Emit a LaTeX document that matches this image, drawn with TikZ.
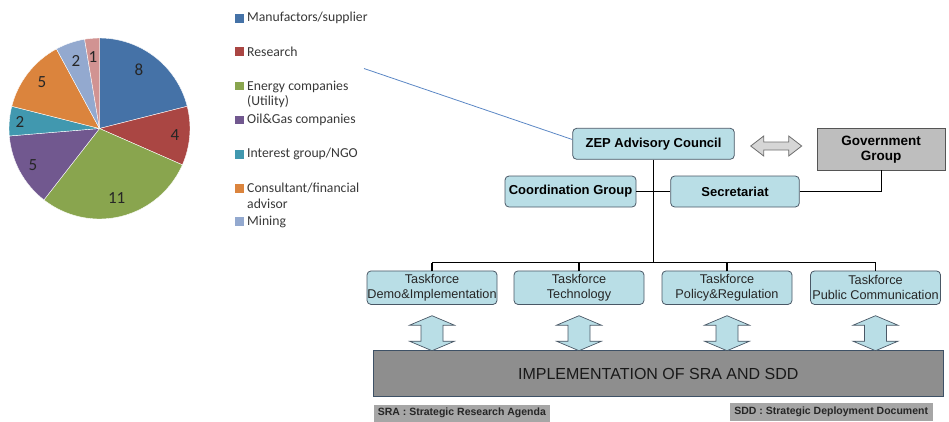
\documentclass[tikz,border=0pt]{standalone}
\usepackage{fontspec}
\setmainfont{Liberation Sans}
\newfontfamily\calfont{Carlito}
\usetikzlibrary{calc}
\definecolor{pblue}{HTML}{4572A7}
\definecolor{pred}{HTML}{AA4643}
\definecolor{pgreen}{HTML}{89A54E}
\definecolor{ppurple}{HTML}{71588F}
\definecolor{pteal}{HTML}{4198AF}
\definecolor{porange}{HTML}{DB843D}
\definecolor{plblue}{HTML}{93A9CF}
\definecolor{ppink}{HTML}{D19392}
\definecolor{boxfill}{HTML}{B9DEE6}
\definecolor{boxline}{HTML}{4A5866}
\definecolor{govfill}{HTML}{BEBEBE}
\definecolor{govline}{HTML}{555555}
\definecolor{implfill}{HTML}{8E8E8E}
\definecolor{implline}{HTML}{3E5166}
\definecolor{lblfill}{HTML}{A6A6A6}
\definecolor{harfill}{HTML}{D6D6D6}
\definecolor{harline}{HTML}{6E6E6E}
\definecolor{linkblue}{HTML}{5B87C5}
\definecolor{legtext}{HTML}{383838}
\begin{document}
\begin{tikzpicture}[x=1pt,y=-1pt,
  box/.style={draw=boxline, fill=boxfill, rounded corners=4pt, line width=0.8pt, inner sep=0pt, align=center},
  boldbox/.style={box, font=\bfseries\fontsize{13}{15}\selectfont},
  tfbox/.style={box, minimum width=130pt, minimum height=33.5pt, font=\fontsize{12.7}{15}\selectfont, text=black!85},
  govbox/.style={draw=govline, fill=govfill, line width=0.8pt, inner sep=0pt, align=center, font=\bfseries\fontsize{13.5}{15}\selectfont},
  implbox/.style={draw=implline, fill=implfill, line width=0.9pt, inner sep=0pt, font=\fontsize{16}{18}\selectfont, text=black!90},
  lblbox/.style={fill=lblfill, inner sep=0pt, anchor=north west, font=\bfseries\fontsize{10.5}{12}\selectfont, text=black!85},
  conn/.style={line width=1.1pt, black},
  blockarrow/.style={draw=boxline, fill=boxfill, line width=0.7pt, line join=miter},
  grayarrow/.style={draw=harline, fill=harfill, line width=0.8pt, line join=miter},
  legsq/.style={minimum size=8.5pt, inner sep=0pt},
  legtxt/.style={anchor=west, inner sep=0pt, align=left, text=legtext, font=\calfont\fontsize{13.7}{15.7}\selectfont},
  pienum/.style={inner sep=0pt, text=black!85, font=\calfont\fontsize{17}{19}\selectfont},
  slice/.style={draw=white, line width=0.4pt}
]
\useasboundingbox (0,0) rectangle (949,421);

% ---------------- pie chart ----------------
\begin{scope}[shift={(99.5,128.5)}, x=1pt, y=1pt]
  \def\R{90.5}
  \filldraw[slice, fill=pblue]   (0,0) -- (90:\R) arc[start angle=90, end angle=14.21, radius=\R] -- cycle;
  \filldraw[slice, fill=pred]    (0,0) -- (14.21:\R) arc[start angle=14.21, end angle=-23.68, radius=\R] -- cycle;
  \filldraw[slice, fill=pgreen]  (0,0) -- (-23.68:\R) arc[start angle=-23.68, end angle=-127.89, radius=\R] -- cycle;
  \filldraw[slice, fill=ppurple] (0,0) -- (-127.89:\R) arc[start angle=-127.89, end angle=-175.26, radius=\R] -- cycle;
  \filldraw[slice, fill=pteal]   (0,0) -- (-175.26:\R) arc[start angle=-175.26, end angle=-194.21, radius=\R] -- cycle;
  \filldraw[slice, fill=porange] (0,0) -- (-194.21:\R) arc[start angle=-194.21, end angle=-241.58, radius=\R] -- cycle;
  \filldraw[slice, fill=plblue]  (0,0) -- (-241.58:\R) arc[start angle=-241.58, end angle=-260.53, radius=\R] -- cycle;
  \filldraw[slice, fill=ppink]   (0,0) -- (-260.53:\R) arc[start angle=-260.53, end angle=-270, radius=\R] -- cycle;
\end{scope}
\node[pienum] (n8)  at (139,70)    {8};
\node[pienum] (n4)  at (175,135)   {4};
\node[pienum] (n11) at (116.7,198) {11};
\node[pienum] (n5a) at (33,165)    {5};
\node[pienum] (n2a) at (20,122)    {2};
\node[pienum] (n5b) at (42,82)     {5};
\node[pienum] (n2b) at (76,61)     {2};
\node[pienum] (n1)  at (93,57)     {1};

% ---------------- legend ----------------
\node[legsq, fill=pblue]   (s1) at (239.5,18.3)  {};
\node[legsq, fill=pred]    (s2) at (239.5,51.7)  {};
\node[legsq, fill=pgreen]  (s3) at (239.5,86)    {};
\node[legsq, fill=ppurple] (s4) at (239.5,120)   {};
\node[legsq, fill=pteal]   (s5) at (239.5,154.3) {};
\node[legsq, fill=porange] (s6) at (239.5,188.3) {};
\node[legsq, fill=plblue]  (s7) at (239.5,221.7) {};
\node[legtxt] (l1) at (247,18.3)  {Manufactors/supplier};
\node[legtxt] (l2) at (247,51.7)  {Research};
\node[legtxt, anchor=north west] (l3) at (247,80.5) {Energy companies\\(Utility)};
\node[legtxt] (l4) at (247,120)   {Oil\&Gas companies};
\node[legtxt] (l5) at (247,154.3) {Interest group/NGO};
\node[legtxt, anchor=north west] (l6) at (247,182.8) {Consultant/financial\\advisor};
\node[legtxt] (l7) at (247,221.7) {Mining};

% ---------------- organisation chart ----------------
\node[boldbox, minimum width=161.6pt, minimum height=31pt] (zep) at (653.5,143.8) {ZEP Advisory Council};
\node[govbox, minimum width=127.7pt, minimum height=41.7pt] (gov) at (881.2,149.2) {Government\\Group};
\node[boldbox, minimum width=131pt, minimum height=31pt] (coord) at (570.5,191.5) {Coordination Group};
\node[boldbox, minimum width=128.6pt, minimum height=31pt] (sec) at (735,191.5) {Secretariat};

\node[tfbox] (tf1) at (432,287.7)   {Taskforce\\Demo\&Implementation};
\node[tfbox] (tf2) at (579,287.7)   {Taskforce\\Technology};
\node[tfbox] (tf3) at (727,287.7)   {Taskforce\\Policy\&Regulation};
\node[tfbox] (tf4) at (875.5,287.7) {Taskforce\\Public Communication};

\node[implbox, minimum width=570pt, minimum height=46pt] (impl) at (658.3,373.7) {IMPLEMENTATION OF SRA AND SDD};
\node[lblbox, minimum width=176.7pt, minimum height=17pt] (sra) at (373.3,404.3) {SRA : Strategic Research Agenda};
\node[lblbox, minimum width=203.4pt, minimum height=18pt] (sdd) at (729.3,403) {SDD : Strategic Deployment Document};

% connectors
\coordinate (bus) at (0,262.5);
\draw[conn] (zep.south) -- (zep.south |- bus);
\draw[conn] (tf1.north |- bus) -- (tf4.north |- bus);
\foreach \t in {tf1,tf2,tf3,tf4} \draw[conn] (\t.north) -- (\t.north |- bus);
\draw[conn] (coord.east) -- (sec.west);
\draw[conn] (sec.east) -- (sec.east -| gov.south) -- (gov.south);

% link from legend to council
\coordinate (linkstart) at (364,68.5);
\draw[linkblue, line width=0.8pt] (linkstart) -- (zep.west |- 0,139.5);

% grey double arrow between council and government
\draw[grayarrow] (750.7,146) -- (763.7,136) -- (763.7,142) -- (788.7,142) -- (788.7,136)
  -- (801.7,146) -- (788.7,156) -- (788.7,150) -- (763.7,150) -- (763.7,156) -- cycle;

% vertical block double arrows between taskforces and implementation
\foreach \c in {432,579,727,875.5}{
  \draw[blockarrow] (\c,315.7) -- (\c+22.5,325.2) -- (\c+11,325.2) -- (\c+11,341.2) -- (\c+22.5,341.2)
    -- (\c,350.7) -- (\c-22.5,341.2) -- (\c-11,341.2) -- (\c-11,325.2) -- (\c-22.5,325.2) -- cycle;
}
\end{tikzpicture}
\end{document}
